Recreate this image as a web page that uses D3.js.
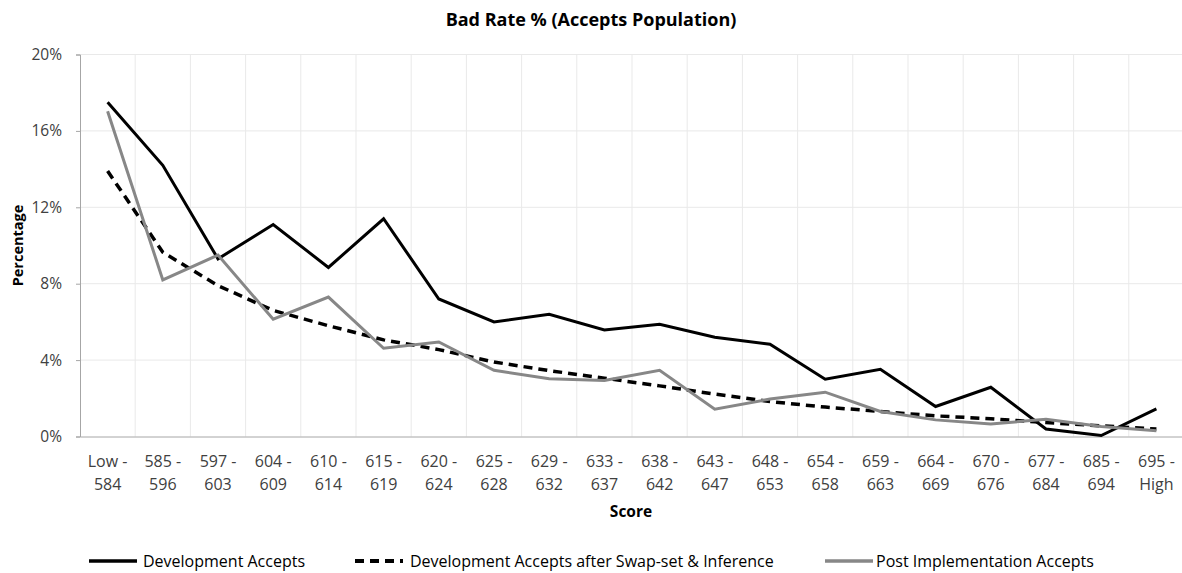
<!DOCTYPE html>
<html>
<head>
<meta charset="utf-8">
<script src="https://cdn.jsdelivr.net/npm/d3@7"></script>
<style>
  html, body { margin: 0; padding: 0; background: #fff; }
  svg { display: block; font-family: "Open Sans", sans-serif; }
</style>
</head>
<body>
<svg id="chart" width="1182" height="573"></svg>
<script>
// Score bands (two-line labels)
const categories = [
  "Low -|584", "585 -|596", "597 -|603", "604 -|609", "610 -|614",
  "615 -|619", "620 -|624", "625 -|628", "629 -|632", "633 -|637",
  "638 -|642", "643 -|647", "648 -|653", "654 -|658", "659 -|663",
  "664 -|669", "670 -|676", "677 -|684", "685 -|694", "695 -|High"
];

// Bad rate (%) per score band
const devAccepts = [17.5, 14.2, 9.3, 11.1, 8.85, 11.4, 7.2, 6.0, 6.4, 5.58,
  5.88, 5.2, 4.83, 3.0, 3.52, 1.57, 2.58, 0.39, 0.05, 1.45];
const devSwapInference = [13.9, 9.65, 7.9, 6.6, 5.8, 5.06, 4.55, 3.9, 3.45, 3.05,
  2.65, 2.22, 1.83, 1.54, 1.31, 1.08, 0.93, 0.73, 0.56, 0.39];
const postImplementation = [17.03, 8.2, 9.5, 6.14, 7.3, 4.62, 4.95, 3.47, 3.02, 2.93,
  3.47, 1.43, 1.96, 2.32, 1.31, 0.87, 0.66, 0.9, 0.52, 0.3];

const yTicks = [0, 4, 8, 12, 16, 20];

const series = [
  { name: "Development Accepts", values: devAccepts, color: "#000000", width: 3, dash: null },
  { name: "Development Accepts after Swap-set & Inference", values: devSwapInference, color: "#000000", width: 3.5, dash: "9,6" },
  { name: "Post Implementation Accepts", values: postImplementation, color: "#878787", width: 3, dash: null }
];

const svg = d3.select("#chart");
const plot = { left: 80, right: 1184, top: 54.5, bottom: 436.5 };

const x = d3.scaleBand().domain(categories).range([plot.left, plot.right]).padding(0);
const y = d3.scaleLinear().domain([0, 20]).range([plot.bottom, plot.top]);
const cx = c => x(c) + x.bandwidth() / 2;

// Gridlines
const grid = svg.append("g");
grid.selectAll("line.h").data(yTicks.filter(t => t > 0)).join("line")
  .attr("class", "h")
  .attr("x1", plot.left).attr("x2", plot.right)
  .attr("y1", d => y(d)).attr("y2", d => y(d))
  .attr("stroke", "#e9e9e9").attr("stroke-width", 1);
grid.selectAll("line.v").data(categories.slice(1)).join("line")
  .attr("class", "v")
  .attr("x1", d => x(d)).attr("x2", d => x(d))
  .attr("y1", plot.top).attr("y2", plot.bottom)
  .attr("stroke", "#e9e9e9").attr("stroke-width", 1);

// Y axis
const yAxis = svg.append("g")
  .attr("transform", `translate(${plot.left},0)`)
  .call(d3.axisLeft(y).tickValues(yTicks).tickSize(4).tickPadding(14).tickFormat(d => d + "%"));
yAxis.select(".domain").attr("stroke", "#a6a6a6");
yAxis.selectAll(".tick line").attr("stroke", "#a6a6a6");
yAxis.selectAll(".tick text")
  .attr("font-family", "Open Sans, sans-serif").attr("font-size", 15.5).attr("fill", "#404040");

// X axis
const xAxis = svg.append("g")
  .attr("transform", `translate(0,${plot.bottom})`)
  .call(d3.axisBottom(x).tickSize(0).tickFormat(""));
xAxis.select(".domain").attr("stroke", "#a6a6a6");
xAxis.selectAll(".tick").each(function(d) {
  const parts = d.split("|");
  const t = d3.select(this).select("text")
    .attr("font-family", "Open Sans, sans-serif").attr("font-size", 16)
    .attr("fill", "#404040").attr("text-anchor", "middle").attr("dy", null).attr("y", 0);
  t.selectAll("tspan").data(parts).join("tspan")
    .attr("x", 0).attr("y", (p, i) => 30 + i * 23).text(p => p);
});

// Series lines
const line = d3.line().x((v, i) => cx(categories[i])).y(v => y(v));
svg.append("g").selectAll("path").data(series).join("path")
  .attr("d", s => line(s.values))
  .attr("fill", "none")
  .attr("stroke", s => s.color)
  .attr("stroke-width", s => s.width)
  .attr("stroke-dasharray", s => s.dash)
  .attr("stroke-linejoin", "miter")
  .attr("stroke-linecap", "butt");

// Titles
svg.append("text").attr("x", 591).attr("y", 26).attr("text-anchor", "middle")
  .attr("font-size", 18).attr("font-weight", "bold").attr("fill", "#000")
  .text("Bad Rate % (Accepts Population)");
svg.append("text").attr("x", 631).attr("y", 517).attr("text-anchor", "middle")
  .attr("font-size", 15.5).attr("font-weight", "bold").attr("fill", "#000")
  .text("Score");
svg.append("text").attr("transform", "translate(23,245.5) rotate(-90)").attr("text-anchor", "middle")
  .attr("font-size", 14.5).attr("font-weight", "bold").attr("fill", "#000")
  .text("Percentage");

// Legend
const legendLineX = [89, 355, 825];
const legendTextX = [143, 410, 876];
const legend = svg.append("g").selectAll("g").data(series).join("g")
  .attr("transform", "translate(0,561)");
legend.append("line")
  .attr("x1", (s, i) => legendLineX[i]).attr("x2", (s, i) => legendLineX[i] + 48)
  .attr("y1", 0).attr("y2", 0)
  .attr("stroke", s => s.color).attr("stroke-width", s => s.width + 0.5)
  .attr("stroke-dasharray", s => s.dash);
legend.append("text")
  .attr("x", (s, i) => legendTextX[i]).attr("y", 5.5)
  .attr("font-size", 16).attr("fill", "#000")
  .text(s => s.name);
</script>
</body>
</html>
